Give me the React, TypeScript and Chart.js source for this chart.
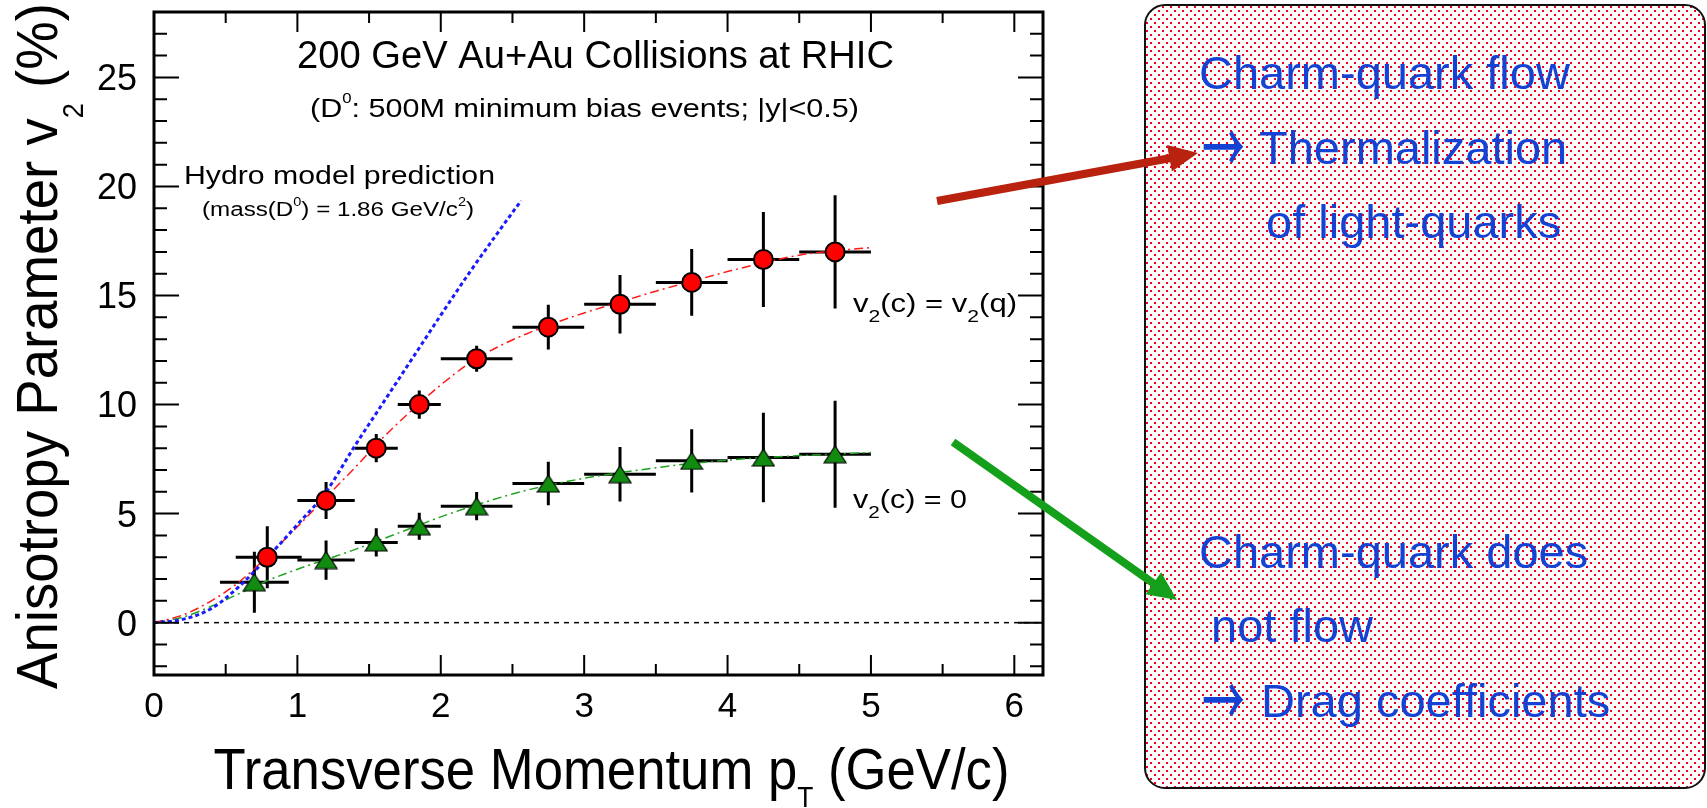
import React, { useEffect, useRef } from "react";
import { Chart, registerables } from "chart.js";

Chart.register(...registerables);

// ---------- axes ----------
const X_MIN = 0;
const X_MAX = 6.2;
const Y_MIN = -2.4;
const Y_MAX = 28;
const X_TICKS = [0, 1, 2, 3, 4, 5, 6];
const Y_TICKS = [0, 5, 10, 15, 20, 25];

// ---------- measured D0 v2 : v2(c) = v2(q) ----------
const RED_PT = [0.79, 1.2, 1.55, 1.85, 2.25, 2.75, 3.25, 3.75, 4.25, 4.75];
const RED_PT_LO = [0.57, 1.0, 1.4, 1.7, 2.0, 2.5, 3.0, 3.5, 4.0, 4.5];
const RED_PT_HI = [1.03, 1.4, 1.7, 2.0, 2.5, 3.0, 3.5, 4.0, 4.5, 5.0];
const RED_V2 = [3.0, 5.6, 8.0, 10.0, 12.1, 13.55, 14.6, 15.6, 16.65, 17.0];
const RED_ERR = [1.42, 0.85, 0.65, 0.65, 0.6, 1.03, 1.34, 1.53, 2.18, 2.6];

// ---------- measured D0 v2 : v2(c) = 0 ----------
const GREEN_PT = [0.7, 1.2, 1.55, 1.85, 2.25, 2.75, 3.25, 3.75, 4.25, 4.75];
const GREEN_PT_LO = [0.46, 1.0, 1.4, 1.7, 2.0, 2.5, 3.0, 3.5, 4.0, 4.5];
const GREEN_PT_HI = [0.94, 1.4, 1.7, 2.0, 2.5, 3.0, 3.5, 4.0, 4.5, 5.0];
const GREEN_V2 = [1.85, 2.87, 3.68, 4.42, 5.34, 6.38, 6.81, 7.42, 7.57, 7.72];
const GREEN_ERR = [1.4, 0.9, 0.65, 0.62, 0.65, 1.0, 1.25, 1.45, 2.05, 2.45];

// ---------- curves ----------
const HYDRO_PT = [0, 0.2, 0.4, 0.6, 0.8, 1.0, 1.2, 1.4, 1.6, 1.8, 2.0, 2.2, 2.4, 2.56];
const HYDRO_V2 = [0, 0.15, 0.65, 1.7, 3.05, 4.5, 6.0, 8.1, 10.1, 12.1, 14.1, 16.05, 17.9, 19.35];

const RED_FIT_PT = [0, 0.2, 0.4, 0.6, 0.8, 1.0, 1.2, 1.4, 1.6, 1.8, 2.0, 2.2, 2.4, 2.6, 2.8, 3.0, 3.25, 3.5, 3.75, 4.0, 4.25, 4.5, 4.75, 5.0];
const RED_FIT_V2 = [0, 0.35, 1.0, 1.9, 3.1, 4.4, 5.75, 7.1, 8.5, 9.75, 10.9, 11.9, 12.65, 13.25, 13.75, 14.2, 14.7, 15.2, 15.65, 16.1, 16.5, 16.85, 17.05, 17.2];

const GREEN_FIT_PT = [0, 0.2, 0.4, 0.6, 0.8, 1.0, 1.2, 1.4, 1.6, 1.8, 2.0, 2.25, 2.5, 2.75, 3.0, 3.25, 3.5, 3.75, 4.0, 4.25, 4.5, 4.75, 5.0];
const GREEN_FIT_V2 = [0, 0.25, 0.75, 1.35, 1.95, 2.45, 2.9, 3.35, 3.85, 4.35, 4.85, 5.4, 5.9, 6.3, 6.62, 6.88, 7.1, 7.3, 7.45, 7.57, 7.66, 7.73, 7.8];

const FONT = "'Liberation Sans', Arial, Helvetica, sans-serif";
const ARROW_FONT = "'Noto Sans CJK SC', 'DejaVu Sans', sans-serif";

// ---------- texts in the side box ----------
const BOX_LINES = [
  { y: 89, parts: [{ t: "Charm-quark flow", x: 1199 }] },
  { y: 164, parts: [{ t: "\u2192", x: 1203, f: ARROW_FONT }, { t: "Thermalization", x: 1259 }] },
  { y: 238, parts: [{ t: "of light-quarks", x: 1266 }] },
  { y: 568, parts: [{ t: "Charm-quark does", x: 1199 }] },
  { y: 642, parts: [{ t: "not flow", x: 1211 }] },
  { y: 717, parts: [{ t: "\u2192", x: 1203, f: ARROW_FONT }, { t: "Drag coefficients", x: 1261 }] },
];

type Seg = { t: string; s?: number; dy?: number };

function measureRich(ctx: CanvasRenderingContext2D, segs: Seg[], size: number) {
  let w = 0;
  for (const g of segs) {
    ctx.font = `${size * (g.s || 1)}px ${FONT}`;
    w += ctx.measureText(g.t).width;
  }
  return w;
}

function drawRich(
  ctx: CanvasRenderingContext2D,
  segs: Seg[],
  x: number,
  y: number,
  size: number,
  opts: { width?: number; center?: boolean; rotate?: boolean; color?: string } = {}
) {
  const w = measureRich(ctx, segs, size);
  const sx = opts.width ? opts.width / w : 1;
  ctx.save();
  ctx.translate(x, y);
  if (opts.rotate) ctx.rotate(-Math.PI / 2);
  ctx.scale(sx, 1);
  ctx.fillStyle = opts.color || "#000";
  ctx.textAlign = "left";
  ctx.textBaseline = "alphabetic";
  let cx = opts.center ? -w / 2 : 0;
  for (const g of segs) {
    ctx.font = `${size * (g.s || 1)}px ${FONT}`;
    ctx.fillText(g.t, cx, (g.dy || 0) * size);
    cx += ctx.measureText(g.t).width;
  }
  ctx.restore();
}

// draws a glyph fitted into a box (left x, vertical centre cy, width w, height h)
function drawFittedGlyph(ctx: CanvasRenderingContext2D, t: string, font: string, x: number, cy: number, w: number, h: number) {
  ctx.save();
  ctx.font = font;
  ctx.textAlign = "left";
  ctx.textBaseline = "alphabetic";
  const m = ctx.measureText(t);
  const gw = m.actualBoundingBoxLeft + m.actualBoundingBoxRight || m.width;
  const gh = m.actualBoundingBoxAscent + m.actualBoundingBoxDescent || 20;
  const sx = w / gw, sy = h / gh;
  ctx.translate(x, cy);
  ctx.scale(sx, sy);
  const gx = m.actualBoundingBoxLeft;
  const gy = (m.actualBoundingBoxAscent - m.actualBoundingBoxDescent) / 2;
  ctx.fillText(t, gx, gy);
  ctx.restore();
}

function roundRect(ctx: CanvasRenderingContext2D, x: number, y: number, w: number, h: number, r: number) {
  ctx.beginPath();
  ctx.moveTo(x + r, y);
  ctx.lineTo(x + w - r, y);
  ctx.arcTo(x + w, y, x + w, y + r, r);
  ctx.lineTo(x + w, y + h - r);
  ctx.arcTo(x + w, y + h, x + w - r, y + h, r);
  ctx.lineTo(x + r, y + h);
  ctx.arcTo(x, y + h, x, y + h - r, r);
  ctx.lineTo(x, y + r);
  ctx.arcTo(x, y, x + r, y, r);
  ctx.closePath();
}

function drawArrow(
  ctx: CanvasRenderingContext2D,
  x0: number, y0: number, x1: number, y1: number,
  color: string, w: number, hl: number, hw: number
) {
  const dx = x1 - x0, dy = y1 - y0;
  const L = Math.hypot(dx, dy);
  const ux = dx / L, uy = dy / L;
  const px = -uy, py = ux;
  const bx = x1 - ux * hl, by = y1 - uy * hl;
  ctx.fillStyle = color;
  ctx.beginPath();
  ctx.moveTo(x0 + (px * w) / 2, y0 + (py * w) / 2);
  ctx.lineTo(bx + (px * w) / 2, by + (py * w) / 2);
  ctx.lineTo(bx + (px * hw) / 2, by + (py * hw) / 2);
  ctx.lineTo(x1, y1);
  ctx.lineTo(bx - (px * hw) / 2, by - (py * hw) / 2);
  ctx.lineTo(bx - (px * w) / 2, by - (py * w) / 2);
  ctx.lineTo(x0 - (px * w) / 2, y0 - (py * w) / 2);
  ctx.closePath();
  ctx.fill();
}

const decor = {
  id: "decor",
  beforeDraw(chart: any) {
    const ctx: CanvasRenderingContext2D = chart.ctx;
    ctx.save();
    ctx.fillStyle = "#fff";
    ctx.fillRect(0, 0, chart.width, chart.height);
    // annotation box with dotted fill
    const bx = 1145, by = 5, bw = 560, bh = 783, br = 20;
    roundRect(ctx, bx, by, bw, bh, br);
    ctx.fillStyle = "#fff";
    ctx.fill();
    ctx.save();
    roundRect(ctx, bx, by, bw, bh, br);
    ctx.clip();
    ctx.fillStyle = "rgb(236,0,30)";
    let row = 0;
    for (let yy = by + 1; yy < by + bh; yy += 4, row++) {
      const off = (row % 2) * 4;
      for (let xx = bx + 1 + off; xx < bx + bw; xx += 8) {
        ctx.fillRect(xx, yy, 2, 2);
      }
    }
    ctx.restore();
    roundRect(ctx, bx, by, bw, bh, br);
    ctx.strokeStyle = "#111";
    ctx.lineWidth = 2;
    ctx.stroke();
    ctx.fillStyle = "#1443d4";
    ctx.textAlign = "left";
    ctx.textBaseline = "alphabetic";
    for (const l of BOX_LINES) {
      for (const p of l.parts as any[]) {
        if (p.f) {
          drawFittedGlyph(ctx, p.t, `500 48px ${p.f}`, p.x, l.y - 17, 41, 34);
        } else {
          ctx.font = `47px ${FONT}`;
          ctx.fillText(p.t, p.x, l.y);
        }
      }
    }
    ctx.restore();
  },
  beforeDatasetsDraw(chart: any) {
    const ctx: CanvasRenderingContext2D = chart.ctx;
    const xs = chart.scales.x, ys = chart.scales.y;
    const a = chart.chartArea;
    ctx.save();
    // zero line
    ctx.strokeStyle = "#000";
    ctx.lineWidth = 1.5;
    ctx.setLineDash([5, 5]);
    ctx.beginPath();
    const y0 = ys.getPixelForValue(0);
    ctx.moveTo(a.left, y0);
    ctx.lineTo(a.right, y0);
    ctx.stroke();
    ctx.setLineDash([]);
    // error bars
    ctx.lineWidth = 3;
    const bars = (pt: number[], lo: number[], hi: number[], v: number[], e: number[]) => {
      for (let i = 0; i < pt.length; i++) {
        const py = ys.getPixelForValue(v[i]);
        const px = xs.getPixelForValue(pt[i]);
        ctx.beginPath();
        ctx.moveTo(xs.getPixelForValue(lo[i]), py);
        ctx.lineTo(xs.getPixelForValue(hi[i]), py);
        ctx.moveTo(px, ys.getPixelForValue(v[i] - e[i]));
        ctx.lineTo(px, ys.getPixelForValue(v[i] + e[i]));
        ctx.stroke();
      }
    };
    bars(GREEN_PT, GREEN_PT_LO, GREEN_PT_HI, GREEN_V2, GREEN_ERR);
    bars(RED_PT, RED_PT_LO, RED_PT_HI, RED_V2, RED_ERR);
    ctx.restore();
  },
  afterDatasetsDraw(chart: any) {
    const ctx: CanvasRenderingContext2D = chart.ctx;
    const xs = chart.scales.x, ys = chart.scales.y;
    const a = chart.chartArea;
    ctx.save();
    ctx.strokeStyle = "#000";
    // ticks on the frame (inside)
    ctx.lineWidth = 2;
    ctx.beginPath();
    for (let v = Math.ceil(Y_MIN); v < Y_MAX; v += 1) {
      const py = ys.getPixelForValue(v);
      const len = v % 5 === 0 ? 25 : 13;
      ctx.moveTo(a.left, py);
      ctx.lineTo(a.left + len, py);
      ctx.moveTo(a.right, py);
      ctx.lineTo(a.right - len, py);
    }
    for (let k = 1; k * 0.5 < X_MAX; k++) {
      const v = k * 0.5;
      const px = xs.getPixelForValue(v);
      const len = k % 2 === 0 ? 20 : 11;
      ctx.moveTo(px, a.bottom);
      ctx.lineTo(px, a.bottom - len);
      ctx.moveTo(px, a.top);
      ctx.lineTo(px, a.top + len);
    }
    ctx.stroke();
    // frame
    ctx.lineWidth = 3;
    ctx.strokeRect(a.left, a.top, a.right - a.left, a.bottom - a.top);

    // annotations inside the plot
    drawRich(ctx, [{ t: "200 GeV Au+Au Collisions at RHIC" }], 297, 68, 38, { width: 597 });
    drawRich(
      ctx,
      [{ t: "(D" }, { t: "0", s: 0.55, dy: -0.55 }, { t: ": 500M minimum bias events; |y|<0.5)" }],
      310, 117, 25, { width: 549 }
    );
    drawRich(ctx, [{ t: "Hydro model prediction" }], 184, 184, 25, { width: 311 });
    drawRich(
      ctx,
      [
        { t: "(mass(D" }, { t: "0", s: 0.6, dy: -0.5 },
        { t: ") = 1.86 GeV/c" }, { t: "2", s: 0.6, dy: -0.5 }, { t: ")" },
      ],
      202, 216, 20, { width: 272 }
    );
    drawRich(
      ctx,
      [{ t: "v" }, { t: "2", s: 0.68, dy: 0.4 }, { t: "(c) = v" }, { t: "2", s: 0.68, dy: 0.4 }, { t: "(q)" }],
      853, 312, 25, { width: 164 }
    );
    drawRich(ctx, [{ t: "v" }, { t: "2", s: 0.68, dy: 0.4 }, { t: "(c) = 0" }], 853, 508, 25, { width: 114 });

    // axis titles
    drawRich(
      ctx,
      [{ t: "Transverse Momentum p" }, { t: "T", s: 0.5, dy: 0.31 }, { t: " (GeV/c)" }],
      (a.left + a.right) / 2 + 13, 789, 58, { center: true, width: 796 }
    );
    drawRich(
      ctx,
      [{ t: "Anisotropy Parameter v" }, { t: "2", s: 0.5, dy: 0.45 }, { t: " (%)" }],
      57, 346, 58, { center: true, rotate: true, width: 686 }
    );
    ctx.restore();
  },
  afterDraw(chart: any) {
    const ctx: CanvasRenderingContext2D = chart.ctx;
    ctx.save();
    drawArrow(ctx, 937, 201, 1198, 153, "#b8220e", 8, 29, 27);
    drawArrow(ctx, 953, 442, 1177, 600, "#14a01a", 8, 29, 27);
    ctx.restore();
  },
};

function makeTriangle(): HTMLCanvasElement {
  const c = document.createElement("canvas");
  c.width = 24;
  c.height = 19;
  const g = c.getContext("2d")!;
  g.beginPath();
  g.moveTo(12, 1);
  g.lineTo(23, 18);
  g.lineTo(1, 18);
  g.closePath();
  g.fillStyle = "#118c11";
  g.fill();
  g.strokeStyle = "#000";
  g.lineWidth = 1.2;
  g.stroke();
  return c;
}

const pts = (xs: number[], ys: number[]) => xs.map((x, i) => ({ x, y: ys[i] }));

export default function App() {
  const ref = useRef<HTMLCanvasElement | null>(null);

  useEffect(() => {
    if (!ref.current) return;
    const tri = makeTriangle();
    const chart = new Chart(ref.current, {
      type: "scatter",
      data: {
        datasets: [
          {
            label: "v2(c) = v2(q)",
            data: pts(RED_PT, RED_V2),
            pointStyle: "circle",
            pointRadius: 9.5,
            backgroundColor: "#ff0000",
            borderColor: "#000",
            borderWidth: 2,
            order: 1,
          },
          {
            label: "v2(c) = 0",
            data: pts(GREEN_PT, GREEN_V2),
            pointStyle: tri as any,
            pointRadius: 11,
            order: 2,
          },
          {
            type: "line",
            label: "Hydro model prediction",
            data: pts(HYDRO_PT, HYDRO_V2),
            borderColor: "#1a1aff",
            borderWidth: 3,
            borderDash: [4, 3],
            pointRadius: 0,
            cubicInterpolationMode: "monotone",
            fill: false,
            order: 3,
          } as any,
          {
            type: "line",
            label: "fit v2(c) = v2(q)",
            data: pts(RED_FIT_PT, RED_FIT_V2),
            borderColor: "#ff1a1a",
            borderWidth: 1.5,
            borderDash: [9, 4, 2, 4],
            pointRadius: 0,
            cubicInterpolationMode: "monotone",
            fill: false,
            order: 4,
          } as any,
          {
            type: "line",
            label: "fit v2(c) = 0",
            data: pts(GREEN_FIT_PT, GREEN_FIT_V2),
            borderColor: "#1fa31f",
            borderWidth: 1.5,
            borderDash: [9, 4, 2, 4],
            pointRadius: 0,
            cubicInterpolationMode: "monotone",
            fill: false,
            order: 5,
          } as any,
        ],
      },
      options: {
        animation: false,
        responsive: false,
        devicePixelRatio: 1,
        events: [],
        layout: { padding: { left: 0, top: 8, right: 664, bottom: 0 } },
        plugins: { legend: { display: false }, tooltip: { enabled: false } },
        scales: {
          x: {
            type: "linear",
            min: X_MIN,
            max: X_MAX,
            grid: { display: false, drawTicks: false },
            border: { display: false },
            ticks: {
              color: "#000",
              font: { family: FONT, size: 35, lineHeight: 1.2 },
              padding: 11,
              maxRotation: 0,
              autoSkip: false,
            },
            afterBuildTicks: (s: any) => {
              s.ticks = X_TICKS.map((v) => ({ value: v }));
            },
            afterFit: (s: any) => {
              s.height = 133;
              s.paddingLeft = 0;
              s.paddingRight = 0;
            },
          },
          y: {
            type: "linear",
            min: Y_MIN,
            max: Y_MAX,
            grid: { display: false, drawTicks: false },
            border: { display: false },
            ticks: {
              color: "#000",
              font: { family: FONT, size: 36 },
              padding: 17,
              labelOffset: 3,
              autoSkip: false,
            },
            afterBuildTicks: (s: any) => {
              s.ticks = Y_TICKS.map((v) => ({ value: v }));
            },
            afterFit: (s: any) => {
              s.width = 154;
              s.paddingTop = 0;
              s.paddingBottom = 0;
            },
          },
        },
      } as any,
      plugins: [decor as any],
    });
    return () => chart.destroy();
  }, []);

  return (
    <div style={{ position: "fixed", left: 0, top: 0, width: 1707, height: 808, background: "#fff" }}>
      <canvas ref={ref} width={1707} height={808} style={{ display: "block", width: 1707, height: 808 }} />
    </div>
  );
}
